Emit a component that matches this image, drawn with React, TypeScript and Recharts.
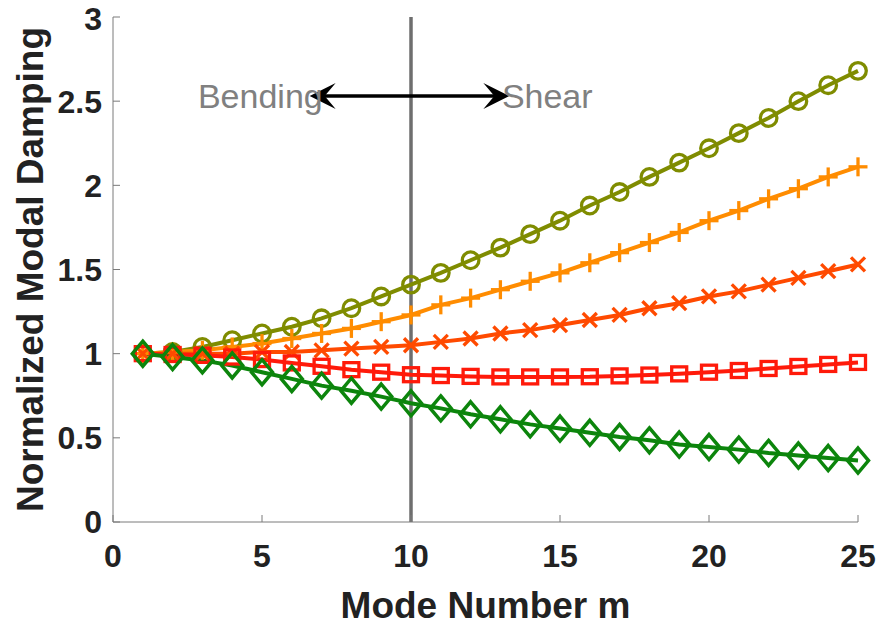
import { LineChart, Line, XAxis, YAxis, ReferenceLine, ReferenceDot } from 'recharts';

const modes = [1, 2, 3, 4, 5, 6, 7, 8, 9, 10, 11, 12, 13, 14, 15, 16, 17, 18, 19, 20, 21, 22, 23, 24, 25];
const oliveVals = [1.0, 1.01, 1.04, 1.08, 1.12, 1.16, 1.21, 1.27, 1.34, 1.41, 1.48, 1.555, 1.63, 1.71, 1.79, 1.88, 1.96, 2.05, 2.135, 2.22, 2.31, 2.4, 2.5, 2.595, 2.68];
const orangeVals = [1.0, 1.01, 1.02, 1.04, 1.06, 1.09, 1.12, 1.15, 1.19, 1.23, 1.29, 1.33, 1.38, 1.43, 1.48, 1.54, 1.6, 1.66, 1.72, 1.79, 1.85, 1.92, 1.98, 2.05, 2.11];
const orangeRedVals = [1.0, 1.0, 1.0, 1.0, 1.01, 1.01, 1.02, 1.03, 1.04, 1.05, 1.07, 1.09, 1.12, 1.14, 1.17, 1.2, 1.23, 1.27, 1.3, 1.34, 1.37, 1.41, 1.45, 1.49, 1.53];
const redVals = [1.0, 0.995, 0.99, 0.98, 0.965, 0.945, 0.925, 0.905, 0.89, 0.875, 0.87, 0.865, 0.862, 0.862, 0.862, 0.863, 0.868, 0.873, 0.88, 0.89, 0.9, 0.912, 0.924, 0.936, 0.948];
const greenVals = [1.0, 0.98, 0.96, 0.93, 0.89, 0.85, 0.81, 0.78, 0.745, 0.705, 0.675, 0.64, 0.61, 0.58, 0.555, 0.53, 0.505, 0.485, 0.46, 0.445, 0.43, 0.41, 0.395, 0.38, 0.365];

const xTicks = [0, 5, 10, 15, 20, 25];
const yTicks = [0, 0.5, 1, 1.5, 2, 2.5, 3];

const splitMode = 10;
const arrowFrom = 6.6;
const arrowTo = 13.3;
const arrowY = 2.53;
const bendingX = 2.85;
const shearX = 13.05;

const data = modes.map((m, i) => ({
  m,
  olive: oliveVals[i],
  orange: orangeVals[i],
  orangeRed: orangeRedVals[i],
  red: redVals[i],
  green: greenVals[i],
}));

const FONT = '"Liberation Sans", Arial, sans-serif';
const AXIS_COLOR = '#7a7a7a';
const LW = 4;
const MW = 3.3;

type DotProps = { cx?: number; cy?: number; index?: number };

const circleDot = (color: string) => (p: DotProps) => (
  <circle key={`c${p.index}`} cx={p.cx} cy={p.cy} r={8.3} fill="none" stroke={color} strokeWidth={MW} />
);

const plusDot = (color: string) => (p: DotProps) => {
  const { cx = 0, cy = 0 } = p;
  return (
    <g key={`p${p.index}`} stroke={color} strokeWidth={MW}>
      <line x1={cx - 9.5} y1={cy} x2={cx + 9.5} y2={cy} />
      <line x1={cx} y1={cy - 9.5} x2={cx} y2={cy + 9.5} />
    </g>
  );
};

const crossDot = (color: string) => (p: DotProps) => {
  const { cx = 0, cy = 0 } = p;
  return (
    <g key={`x${p.index}`} stroke={color} strokeWidth={MW}>
      <line x1={cx - 7} y1={cy - 7} x2={cx + 7} y2={cy + 7} />
      <line x1={cx - 7} y1={cy + 7} x2={cx + 7} y2={cy - 7} />
    </g>
  );
};

const squareDot = (color: string) => (p: DotProps) => {
  const { cx = 0, cy = 0 } = p;
  return <rect key={`s${p.index}`} x={cx - 7.5} y={cy - 7} width={15} height={14} fill="none" stroke={color} strokeWidth={MW} />;
};

const diamondDot = (color: string) => (p: DotProps) => {
  const { cx = 0, cy = 0 } = p;
  return (
    <polygon
      key={`d${p.index}`}
      points={`${cx},${cy - 12.5} ${cx + 10.5},${cy} ${cx},${cy + 12.5} ${cx - 10.5},${cy}`}
      fill="none"
      stroke={color}
      strokeWidth={3.5}
    />
  );
};

// double headed arrow with barbed heads
const DoubleArrow = (props: any) => {
  const { x1, y1, x2, y2 } = props;
  const head = (tipX: number, dir: number) => {
    const back = tipX - dir * 26;
    const notch = tipX - dir * 15;
    return (
      <polygon
        points={`${tipX},${y1} ${back},${y1 - 13} ${notch},${y1} ${back},${y1 + 13}`}
        fill="#000"
      />
    );
  };
  return (
    <g>
      <line x1={x1 + 10} y1={y1} x2={x2 - 10} y2={y2} stroke="#000" strokeWidth={3.5} />
      {head(x1, -1)}
      {head(x2, 1)}
    </g>
  );
};

const annotText = (value: string) => (props: any) => {
  const { viewBox } = props;
  const x = viewBox.x + (viewBox.width || 0) / 2;
  const y = viewBox.y + (viewBox.height || 0) / 2;
  return (
    <text x={x} y={y} dy="0.35em" fill="#808080" fontSize={34} fontFamily={FONT} textAnchor="start">
      {value}
    </text>
  );
};

export default function App() {
  const tickStyle = { fill: '#222', fontSize: 32, fontWeight: 700, fontFamily: FONT };
  return (
    <div style={{ position: 'absolute', left: 0, top: 0, background: '#fff' }}>
      <LineChart width={881} height={626} data={data} margin={{ top: 17, right: 23, bottom: 0, left: 0 }}>
        <XAxis
          dataKey="m"
          type="number"
          domain={[0, 25]}
          ticks={xTicks}
          height={104}
          stroke={AXIS_COLOR}
          tickSize={-7}
          tickMargin={29}
          tick={tickStyle}
          label={{
            content: (p: any) => (
              <text
                x={p.viewBox.x + p.viewBox.width / 2}
                y={605}
                dy="0.35em"
                textAnchor="middle"
                fill="#222"
                fontSize={37}
                fontWeight={700}
                fontFamily={FONT}
              >
                Mode Number m
              </text>
            ),
          }}
        />
        <XAxis xAxisId="top" orientation="top" type="number" domain={[0, 25]} ticks={xTicks} height={0} stroke={AXIS_COLOR} tickSize={-7} tick={() => <g />} />
        <YAxis
          type="number"
          domain={[0, 3]}
          ticks={yTicks}
          width={113}
          stroke={AXIS_COLOR}
          tickSize={-7}
          tickMargin={18}
          tick={tickStyle}
          label={{
            content: (p: any) => {
              const cy = p.viewBox.y + p.viewBox.height / 2;
              return (
                <text
                  x={30}
                  y={cy}
                  dy="0.35em"
                  textAnchor="middle"
                  transform={`rotate(-90, 30, ${cy})`}
                  fill="#222"
                  fontSize={37}
                  fontWeight={700}
                  fontFamily={FONT}
                >
                  Normalized Modal Damping
                </text>
              );
            },
          }}
        />
        <YAxis yAxisId="right" orientation="right" type="number" domain={[0, 3]} ticks={yTicks} width={0} stroke={AXIS_COLOR} tickSize={-7} tick={() => <g />} />
        <ReferenceLine x={splitMode} stroke="#6e6e6e" strokeWidth={3.5} />
        <Line dataKey="olive" stroke="#7f8c00" strokeWidth={LW} dot={circleDot('#7f8c00')} isAnimationActive={false} />
        <Line dataKey="orange" stroke="#ff8c00" strokeWidth={LW} dot={plusDot('#ff8c00')} isAnimationActive={false} />
        <Line dataKey="orangeRed" stroke="#ff4a00" strokeWidth={LW} dot={crossDot('#ff4a00')} isAnimationActive={false} />
        <Line dataKey="red" stroke="#ff1a0a" strokeWidth={LW} dot={squareDot('#ff1a0a')} isAnimationActive={false} />
        <Line dataKey="green" stroke="#0c850c" strokeWidth={LW} dot={diamondDot('#0c850c')} isAnimationActive={false} />
        <ReferenceDot x={bendingX} y={arrowY} r={0} label={{ content: annotText('Bending') }} />
        <ReferenceDot x={shearX} y={arrowY} r={0} label={{ content: annotText('Shear') }} />
        <ReferenceLine
          segment={[
            { x: arrowFrom, y: arrowY },
            { x: arrowTo, y: arrowY },
          ]}
          shape={DoubleArrow}
        />
      </LineChart>
    </div>
  );
}
